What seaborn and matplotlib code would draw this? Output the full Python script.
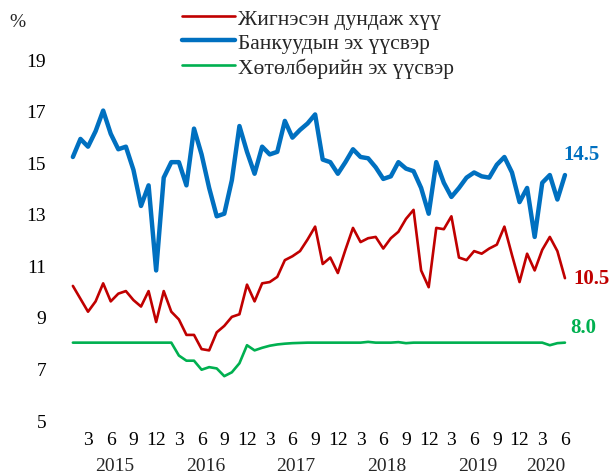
import numpy as np
import pandas as pd
import seaborn as sns
import matplotlib.pyplot as plt

# monthly data, 2015-01 .. 2020-06
weighted_rate = [10.2, 9.7, 9.2, 9.6, 10.3, 9.6, 9.9, 10.0, 9.65, 9.4, 10.0, 8.8,
                 10.0, 9.2, 8.9, 8.3, 8.3, 7.75, 7.7, 8.4, 8.65, 9.0, 9.1, 10.25,
                 9.6, 10.3, 10.35, 10.55, 11.2, 11.35, 11.55, 12.0, 12.5, 11.05, 11.3, 10.7,
                 11.6, 12.45, 11.9, 12.05, 12.1, 11.65, 12.05, 12.3, 12.8, 13.15, 10.8, 10.15,
                 12.45, 12.4, 12.9, 11.3, 11.2, 11.55, 11.45, 11.65, 11.8, 12.5, 11.4, 10.35,
                 11.45, 10.8, 11.6, 12.1, 11.55, 10.5]
bank_funds = [15.2, 15.9, 15.6, 16.2, 17.0, 16.1, 15.5, 15.6, 14.7, 13.3, 14.1, 10.8,
              14.4, 15.0, 15.0, 14.1, 16.3, 15.3, 14.0, 12.9, 13.0, 14.3, 16.4, 15.4,
              14.55, 15.6, 15.3, 15.4, 16.6, 15.95, 16.25, 16.5, 16.85, 15.1, 15.0, 14.55,
              15.0, 15.5, 15.2, 15.15, 14.8, 14.35, 14.45, 15.0, 14.75, 14.65, 14.0, 13.0,
              15.0, 14.2, 13.65, 14.0, 14.4, 14.6, 14.45, 14.4, 14.9, 15.2, 14.6, 13.45,
              14.0, 12.1, 14.2, 14.5, 13.55, 14.5]
program_funds = [8.0, 8.0, 8.0, 8.0, 8.0, 8.0, 8.0, 8.0, 8.0, 8.0, 8.0, 8.0,
                 8.0, 8.0, 7.5, 7.3, 7.3, 6.95, 7.05, 7.0, 6.7, 6.85, 7.2, 7.9,
                 7.7, 7.8, 7.88, 7.93, 7.96, 7.98, 7.99, 8.0, 8.0, 8.0, 8.0, 8.0,
                 8.0, 8.0, 8.0, 8.03, 8.0, 8.0, 8.0, 8.02, 7.98, 8.0, 8.0, 8.0,
                 8.0, 8.0, 8.0, 8.0, 8.0, 8.0, 8.0, 8.0, 8.0, 8.0, 8.0, 8.0,
                 8.0, 8.0, 8.0, 7.9, 7.98, 8.0]

month_labels = ["3", "6", "9", "12", "3", "6", "9", "12", "3", "6", "9", "12",
                "3", "6", "9", "12", "3", "6", "9", "12", "3", "6"]
years = ["2015", "2016", "2017", "2018", "2019", "2020"]
year_centers = [5.5, 17.5, 29.5, 41.5, 53.5, 62.5]

names = ["Жигнэсэн дундаж хүү", "Банкуудын эх үүсвэр", "Хөтөлбөрийн эх үүсвэр"]
colors = ["#C00000", "#0070C0", "#00B050"]
widths = [1.9, 3.2, 1.9]

df = pd.DataFrame({"t": np.arange(len(bank_funds)),
                   names[0]: weighted_rate,
                   names[1]: bank_funds,
                   names[2]: program_funds})

sns.set_theme(style="white")
plt.rcParams['font.family'] = ['Liberation Serif', 'DejaVu Serif']

fig = plt.figure(figsize=(6.13, 4.77), dpi=100)
ax = fig.add_axes([0.0979, 0.1174, 0.8483, 0.7568])

for name, c, lw in zip(names, colors, widths):
    sns.lineplot(data=df, x="t", y=name, color=c, linewidth=lw, label=name, ax=ax)

ax.set_xlim(-1.70, 66.99)
ax.set_ylim(5, 19)
ax.set_yticks([5, 7, 9, 11, 13, 15, 17, 19])
ax.set_xticks(np.arange(2, len(bank_funds), 3))
ax.set_xticklabels(month_labels)
ax.tick_params(axis="both", length=0, labelsize=14, colors="black")
ax.tick_params(axis="y", pad=10)
ax.tick_params(axis="x", pad=8)
ax.set_xlabel("")
ax.set_ylabel("")
for s in ax.spines.values():
    s.set_visible(False)

for yr, xc in zip(years, year_centers):
    ax.text(xc, -0.126, yr, transform=ax.get_xaxis_transform(),
            ha="center", va="center", fontsize=14)

# end-of-series labels
ax.text(64.75, 15.33, f"{bank_funds[-1]:.1f}", color=colors[1], fontsize=15,
        fontweight="bold", va="center", ha="left")
ax.text(66.1, 10.5, f"{weighted_rate[-1]:.1f}", color=colors[0], fontsize=15,
        fontweight="bold", va="center", ha="left")
ax.text(65.7, 8.6, f"{program_funds[-1]:.1f}", color=colors[2], fontsize=15,
        fontweight="bold", va="center", ha="left")

fig.text(0.016, 0.952, "%", fontsize=14, ha="left", va="center")

ax.legend(loc="upper left", bbox_to_anchor=(0.297, 0.98),
          bbox_transform=fig.transFigure, frameon=False, fontsize=15.5,
          handlelength=2.45, handletextpad=0.15, labelspacing=0.2,
          borderpad=0, borderaxespad=0)

fig.savefig("out.png", dpi=100)
